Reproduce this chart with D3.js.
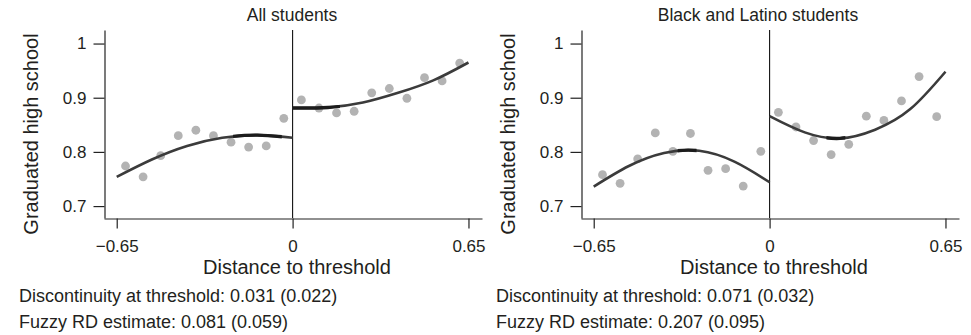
<!DOCTYPE html>
<html>
<head>
<meta charset="utf-8">
<script src="https://cdn.jsdelivr.net/npm/d3@7"></script>
<style>
  html, body { margin: 0; padding: 0; background: #fff; }
  svg { display: block; font-family: "Liberation Sans", Arial, sans-serif; }
</style>
</head>
<body>
<svg id="chart" width="971" height="335"></svg>
<script>
// bin midpoints (distance to threshold), 10 bins on each side
const binMids = [-0.6175, -0.5525, -0.4875, -0.4225, -0.3575, -0.2925, -0.2275, -0.1625, -0.0975, -0.0325,
                 0.0325, 0.0975, 0.1625, 0.2275, 0.2925, 0.3575, 0.4225, 0.4875, 0.5525, 0.6175];

// binned means
const allStudents = [0.774, 0.754, 0.793, 0.830, 0.840, 0.830, 0.818, 0.809, 0.811, 0.862,
                     0.896, 0.881, 0.872, 0.875, 0.909, 0.917, 0.899, 0.937, 0.931, 0.964];
const blackLatino = [0.758, 0.742, 0.787, 0.835, 0.801, 0.834, 0.766, 0.769, 0.737, 0.801,
                     0.873, 0.846, 0.821, 0.795, 0.814, 0.866, 0.858, 0.894, 0.939, 0.865];

// fitted curves, sampled from the picture on each side of the cutoff
const fitLeftX = [-0.65, -0.52, -0.39, -0.26, -0.13, 0];
const fitRightX = [0, 0.13, 0.26, 0.39, 0.52, 0.65];
const allFitLeft = [0.754, 0.786, 0.811, 0.826, 0.831, 0.826];
const allFitRight = [0.881, 0.882, 0.891, 0.909, 0.932, 0.965];
const blFitLeft = [0.736, 0.774, 0.798, 0.802, 0.782, 0.744];
const blFitRight = [0.866, 0.836, 0.825, 0.841, 0.879, 0.948];

const xTicks = [-0.65, 0, 0.65];
const xTickLabels = ["\u22120.65", "0", "0.65"];
const yTicks = [0.7, 0.8, 0.9, 1];
const yTickLabels = ["0.7", "0.8", "0.9", "1"];

const titles = ["All students", "Black and Latino students"];
const notes = [
  ["Discontinuity at threshold: 0.031 (0.022)", "Fuzzy RD estimate: 0.081 (0.059)"],
  ["Discontinuity at threshold: 0.071 (0.032)", "Fuzzy RD estimate: 0.207 (0.095)"]
];

const panels = [
  { title: titles[0], points: allStudents, fitL: allFitLeft, fitR: allFitRight, notes: notes[0],
    offset: 0, titleX: 292, thick: [[-0.22, -0.04], [0, 0.175]] },
  { title: titles[1], points: blackLatino, fitL: blFitLeft, fitR: blFitRight, notes: notes[1],
    offset: 477, titleX: 281, thick: [[-0.34, -0.27], [0.21, 0.28]] }
];

const textColor = "#231f20";
const axisColor = "#222";
const dotColor = "#b3b3b3";
const lineColor = "#3b3b3b";

const svg = d3.select("#chart");
const defs = svg.append("defs");

// shared scales (panel is shifted with a transform)
const x = d3.scaleLinear().domain([-0.697, 0.7]).range([104, 482]);
const y = d3.scaleLinear().domain([0.678, 1.025]).range([218, 30]);

const line = d3.line()
  .x(d => x(d[0]))
  .y(d => y(d[1]))
  .curve(d3.curveNatural);

panels.forEach((p, i) => {
  const g = svg.append("g").attr("transform", `translate(${p.offset},0)`);

  // title
  g.append("text")
    .attr("x", p.titleX).attr("y", 20.5)
    .attr("text-anchor", "middle")
    .attr("font-size", 17.5)
    .attr("fill", textColor)
    .text(p.title);

  // y axis
  const yAxis = d3.axisLeft(y)
    .tickValues(yTicks)
    .tickFormat((d, k) => yTickLabels[k])
    .tickSize(11).tickSizeOuter(0).tickPadding(7);
  const gy = g.append("g").attr("transform", "translate(104.5,0)").call(yAxis);

  // x axis
  const xAxis = d3.axisBottom(x)
    .tickValues(xTicks)
    .tickFormat((d, k) => xTickLabels[k])
    .tickSize(10).tickSizeOuter(0).tickPadding(11);
  const gx = g.append("g").attr("transform", "translate(0,218.5)").call(xAxis);

  [gx, gy].forEach(a => {
    a.select(".domain").attr("stroke", axisColor).attr("stroke-width", 1.2);
    a.selectAll(".tick line").attr("stroke", axisColor).attr("stroke-width", 1.2);
    a.selectAll(".tick text")
      .attr("font-size", 17)
      .attr("font-family", "Liberation Sans, Arial, sans-serif")
      .attr("fill", textColor);
  });

  // threshold line
  g.append("line")
    .attr("x1", x(0)).attr("x2", x(0))
    .attr("y1", y.range()[1]).attr("y2", y.range()[0])
    .attr("stroke", "#111").attr("stroke-width", 1.1);

  // axis titles
  g.append("text")
    .attr("transform", "rotate(-90)")
    .attr("x", -134).attr("y", 38)
    .attr("text-anchor", "middle")
    .attr("font-size", 20)
    .attr("fill", textColor)
    .text("Graduated high school");

  g.append("text")
    .attr("x", 297).attr("y", 274)
    .attr("text-anchor", "middle")
    .attr("font-size", 20)
    .attr("fill", textColor)
    .text("Distance to threshold");

  // binned means
  g.append("g").selectAll("circle")
    .data(p.points)
    .join("circle")
    .attr("cx", (d, k) => x(binMids[k]))
    .attr("cy", d => y(d))
    .attr("r", 4.4)
    .attr("fill", dotColor);

  // fitted polynomials
  const left = fitLeftX.map((v, k) => [v, p.fitL[k]]);
  const right = fitRightX.map((v, k) => [v, p.fitR[k]]);
  [left, right].forEach((seg, s) => {
    g.append("path")
      .attr("d", line(seg))
      .attr("fill", "none")
      .attr("stroke", lineColor)
      .attr("stroke-width", 2.6)
      .attr("stroke-linecap", "butt");

    // the slightly heavier stretch near the flat part of each curve
    const span = p.thick[s];
    const clipId = `clip-${i}-${s}`;
    defs.append("clipPath").attr("id", clipId)
      .append("rect")
      .attr("x", x(span[0])).attr("y", 0)
      .attr("width", x(span[1]) - x(span[0])).attr("height", 335);
    g.append("path")
      .attr("d", line(seg))
      .attr("clip-path", `url(#${clipId})`)
      .attr("fill", "none")
      .attr("stroke", "#1c1c1c")
      .attr("stroke-width", 3.4);
  });

  // notes under the panel
  p.notes.forEach((t, k) => {
    g.append("text")
      .attr("x", 19).attr("y", 302 + k * 25.5)
      .attr("font-size", 18)
      .attr("fill", textColor)
      .text(t);
  });
});
</script>
</body>
</html>
